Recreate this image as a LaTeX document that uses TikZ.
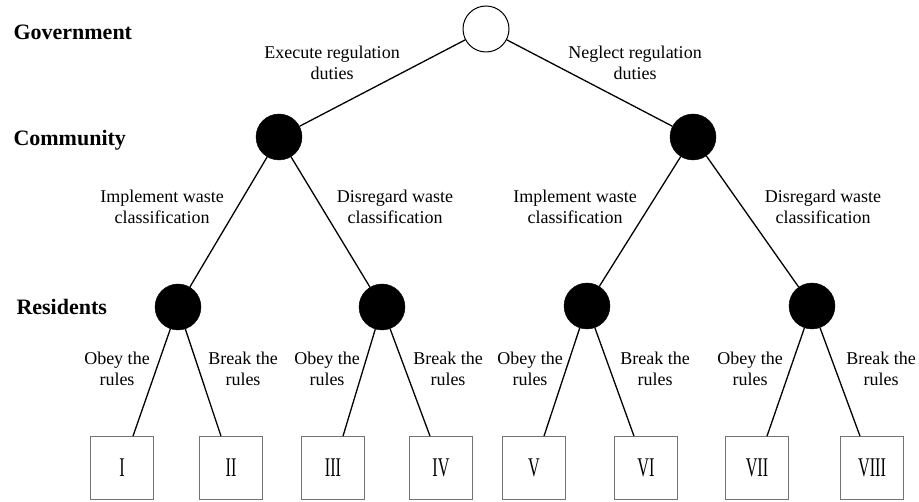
\documentclass[tikz,border=0pt]{standalone}
\usepackage{fontspec}
\setmainfont{Liberation Serif}
\usepackage{tikz}
\usetikzlibrary{calc}
\newcommand{\rnum}[1]{\scalebox{0.6}[1]{#1}}

\begin{document}
\begin{tikzpicture}[x=1pt,y=-1pt,
		root/.style={circle,draw=black,fill=white,line width=1pt,minimum size=46pt,inner sep=0pt},
		player/.style={circle,draw=black,fill=black,minimum size=46pt,inner sep=0pt},
		payoff/.style={rectangle,draw=black!55,line width=0.8pt,minimum size=63pt,inner sep=0pt,font=\fontsize{27}{27}\selectfont},
		choice/.style={align=center,font=\fontsize{18}{21}\selectfont},
		level/.style={anchor=west,font=\fontsize{22}{22}\selectfont\bfseries},
		branch/.style={line width=1.3pt}]
		\useasboundingbox (0,0) rectangle (919,502);
		
		\node[level] (gov) at (10,32) {Government};
		\node[level] (com) at (10,140) {Community};
		\node[level] (res) at (13,307) {Residents};
		
		\node[root] (g) at (486,29) {};
		\node[player] (c1) at (279,137) {};
		\node[player] (c2) at (693,137) {};
		\node[player] (r1) at (178,307) {};
		\node[player] (r2) at (382,307) {};
		\node[player] (r3) at (587,306) {};
		\node[player] (r4) at (812,306) {};
		
		\node[payoff] (b1) at (122,468) {\rnum{I}};
		\node[payoff] (b2) at (231,468) {\rnum{II}};
		\node[payoff] (b3) at (333,468) {\rnum{III}};
		\node[payoff] (b4) at (441,468) {\rnum{IV}};
		\node[payoff] (b5) at (534,468) {\rnum{V}};
		\node[payoff] (b6) at (646,468) {\rnum{VI}};
		\node[payoff] (b7) at (757,468) {\rnum{VII}};
		\node[payoff] (b8) at (872,468) {\rnum{VIII}};
		
		\draw[branch] (g) -- (c1);
		\draw[branch] (g) -- (c2);
		\draw[branch] (c1) -- (r1);
		\draw[branch] (c1) -- (r2);
		\draw[branch] (c2) -- (r3);
		\draw[branch] (c2) -- (r4);
		
		\draw[branch] (r1) -- ([xshift=11pt]b1.north);
		\draw[branch] (r1) -- ([xshift=-10pt]b2.north);
		\draw[branch] (r2) -- ([xshift=10pt]b3.north);
		\draw[branch] (r2) -- ([xshift=-11pt]b4.north);
		\draw[branch] (r3) -- ([xshift=10pt]b5.north);
		\draw[branch] (r3) -- ([xshift=-12pt]b6.north);
		\draw[branch] (r4) -- ([xshift=10pt]b7.north);
		\draw[branch] (r4) -- ([xshift=-12pt]b8.north);
		
		\node[choice] (exe) at (332,63) {Execute regulation\\duties};
		\node[choice] (neg) at (635,63) {Neglect regulation\\duties};
		
		\node[choice] (imp1) at (162,207) {Implement waste\\classification};
		\node[choice] (dis1) at (395,207) {Disregard waste\\classification};
		\node[choice] (imp2) at (575,207) {Implement waste\\classification};
		\node[choice] (dis2) at (823,207) {Disregard waste\\classification};
		
		\node[choice] (obey1) at (117,369) {Obey the\\rules};
		\node[choice] (brk1) at (243,369) {Break the\\rules};
		\node[choice] (obey2) at (327,369) {Obey the\\rules};
		\node[choice] (brk2) at (448,369) {Break the\\rules};
		\node[choice] (obey3) at (530,369) {Obey the\\rules};
		\node[choice] (brk3) at (655,369) {Break the\\rules};
		\node[choice] (obey4) at (750,369) {Obey the\\rules};
		\node[choice] (brk4) at (881,369) {Break the\\rules};
		\end{tikzpicture}
\end{document}
